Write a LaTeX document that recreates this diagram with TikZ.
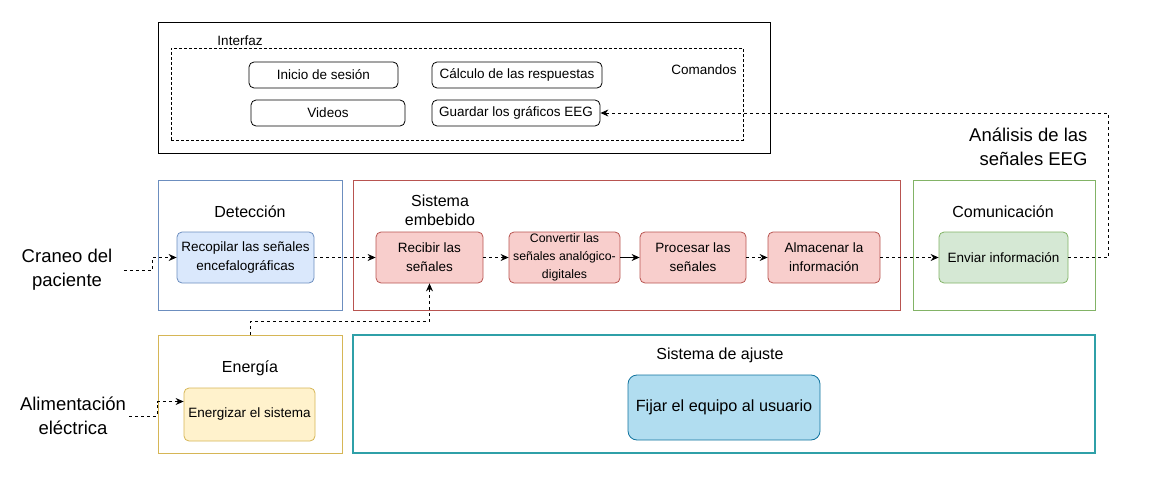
\documentclass[tikz,border=0pt]{standalone}
\usepackage{fontspec}
\setmainfont{Liberation Sans}
\usetikzlibrary{arrows.meta}

\definecolor{bluefill}{HTML}{DAE8FC}
\definecolor{bluedraw}{HTML}{6C8EBF}
\definecolor{redfill}{HTML}{F8CECC}
\definecolor{reddraw}{HTML}{B85450}
\definecolor{greenfill}{HTML}{D5E8D4}
\definecolor{greendraw}{HTML}{82B366}
\definecolor{yellowfill}{HTML}{FFF2CC}
\definecolor{yellowdraw}{HTML}{D6B656}
\definecolor{tealdraw}{HTML}{2FA0A8}
\definecolor{cyanfill}{HTML}{B1DDF0}
\definecolor{cyandraw}{HTML}{10739E}

\begin{document}
\begin{tikzpicture}[
			x=1pt, y=-1pt,
			>={Stealth[length=8pt,width=7pt]},
			box/.style={
					rectangle,
					rounded corners=5pt,
					draw=black,
					line width=0.8pt,
					minimum height=26pt,
					inner sep=0pt,
					align=center,
					font=\fontsize{13.5}{19}\selectfont
				},
			frame/.style={rectangle, draw, line width=0.9pt, inner sep=0pt},
			title/.style={align=center, font=\fontsize{16}{19}\selectfont},
			outside/.style={align=center, font=\fontsize{18.5}{24}\selectfont},
			detect/.style={box, fill=bluefill, draw=bluedraw, minimum height=51pt},
			embed/.style={box, fill=redfill, draw=reddraw, minimum height=51pt},
			comm/.style={box, fill=greenfill, draw=greendraw, minimum height=51pt},
			power/.style={box, fill=yellowfill, draw=yellowdraw, minimum height=53pt},
			link/.style={->, line width=0.9pt, dash pattern=on 3pt off 3pt}
		]
		\useasboundingbox (0,0) rectangle (1151,487);

		% Interface frame
		\node[frame, draw=black, minimum width=612pt, minimum height=131pt] (ui) at (464,87.5) {};
		\node[frame, draw=black, dash pattern=on 3pt off 2pt, minimum width=572pt, minimum height=92pt] (interfaz) at (457,94) {};
		\node[font=\fontsize{13.5}{16}\selectfont] (interfazlbl) at (240,41) {Interfaz};
		\node[font=\fontsize{13.5}{16}\selectfont] (comandos) at (704,70) {Comandos};
		\node[box, minimum width=149pt] (inicio) at (323.5,75) {Inicio de sesión};
		\node[box, minimum width=170pt] (calculo) at (517,75) {Cálculo de las respuestas};
		\node[box, minimum width=154pt] (videos) at (328,113) {Videos};
		\node[box, minimum width=168pt] (guardar) at (516,113) {Guardar los gráficos EEG};
		\node[outside, align=right, anchor=east] (analisis) at (1091,147) {Análisis de las\\señales EEG};

		% Containers
		\node[frame, draw=bluedraw, minimum width=184pt, minimum height=130pt] (deteccion) at (250,245) {};
		\node[frame, draw=reddraw, minimum width=547pt, minimum height=130pt] (embebido) at (626.5,245) {};
		\node[frame, draw=greendraw, minimum width=182pt, minimum height=130pt] (comunicacion) at (1004,245) {};
		\node[frame, draw=yellowdraw, minimum width=184pt, minimum height=118pt] (energia) at (250,394) {};
		\node[frame, draw=tealdraw, line width=1.3pt, minimum width=742pt, minimum height=118pt] (ajuste) at (724,394) {};

		\node[title] (deteccionlbl) at (250,212) {Detección};
		\node[title] (embebidolbl) at (440,210) {Sistema\\embebido};
		\node[title] (comunicacionlbl) at (1003,212) {Comunicación};
		\node[title] (energialbl) at (250,368) {Energía};
		\node[title] (ajustelbl) at (720,355) {Sistema de ajuste};

		% Nodes
		\node[detect, minimum width=137pt] (recopilar) at (245.5,257.5) {Recopilar las señales\\encefalográficas};
		\node[embed, minimum width=107pt] (recibir) at (429.5,257.5) {Recibir las\\señales};
		\node[embed, minimum width=111pt, font=\fontsize{12.3}{18}\selectfont] (convertir) at (564.5,257.5) {Convertir las\\señales analógico-\\digitales};
		\node[embed, minimum width=106pt] (procesar) at (693,257.5) {Procesar las\\señales};
		\node[embed, minimum width=112pt] (almacenar) at (824,257.5) {Almacenar la\\información};
		\node[comm, minimum width=129pt] (enviar) at (1003.5,257.5) {Enviar información};
		\node[power, minimum width=131pt] (energizar) at (249.5,414.5) {Energizar el sistema};
		\node[box, fill=cyanfill, draw=cyandraw, minimum width=192pt, minimum height=65pt, rounded corners=9pt,
			font=\fontsize{16.2}{19}\selectfont] (fijar) at (724,407.5) {Fijar el equipo al usuario};

		\node[outside] (craneo) at (67,270) {Craneo del\\paciente};
		\node[outside] (alimentacion) at (73,416) {Alimentación\\eléctrica};

		% Arrows
		\draw[link, shorten <=8pt] (craneo.east) -| ([xshift=-24pt]recopilar.west) -- (recopilar.west);
		\draw[link] (recopilar) -- (recibir);
		\draw[link] (recibir) -- (convertir);
		\draw[->, line width=0.9pt] (convertir) -- (procesar);
		\draw[link] (procesar) -- (almacenar);
		\draw[link] (almacenar) -- (enviar);
		\draw[link] (enviar.east) -- ++(40,0) |- (guardar.east);
		\draw[link] (energia.north) -- ++(0,-13) -| (recibir.south);
		\draw[link] (alimentacion.east) -| ([xshift=-26pt,yshift=13pt]energizar.west) -- ([yshift=13pt]energizar.west);

	\end{tikzpicture}
\end{document}
